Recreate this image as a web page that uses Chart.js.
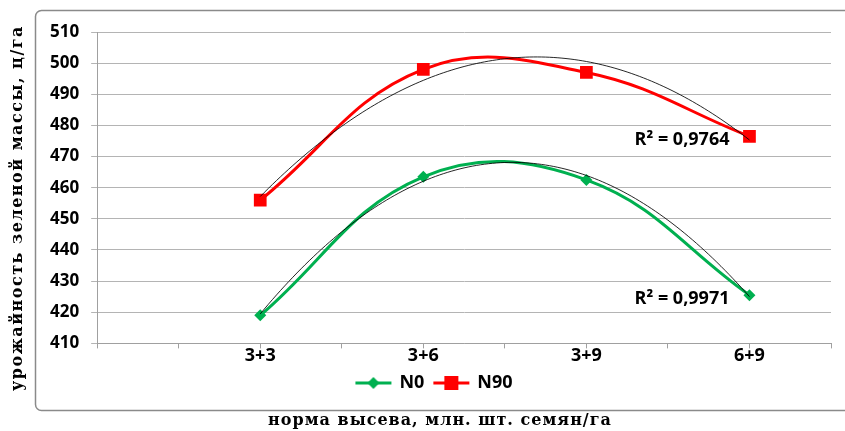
<!DOCTYPE html>
<html>
<head>
<meta charset="utf-8">
<script src="https://cdn.jsdelivr.net/npm/chart.js@4.4.1/dist/chart.umd.min.js"></script>
<style>
  html, body { margin: 0; padding: 0; background: #fff; }
  #wrap { width: 845px; height: 431px; }
</style>
</head>
<body>
<div id="wrap"><canvas id="chart"></canvas></div>
<script>
// Данные графика
const categories = ['3+3', '3+6', '3+9', '6+9'];
const seriesNames = ['N0', 'N90'];
const valuesN0 = [419, 463.5, 462.5, 425.5];
const valuesN90 = [456, 498, 497, 476.5];
const r2Labels = ['R² = 0,9971', 'R² = 0,9764'];
const yMin = 410, yMax = 510, yStep = 10;
const yTitle = 'урожайность зеленой массы, ц/га';
const xTitle = 'норма высева, млн. шт. семян/га';

const GREEN = '#00b050';
const RED = '#ff0000';
const LABEL_FONT = '"Open Sans", "Liberation Sans", sans-serif';
const TITLE_FONT = '"DejaVu Serif", "Liberation Serif", serif';

// Точки: категории на позициях 1..4 линейной оси
const toPoints = vals => vals.map((v, i) => ({ x: i + 1, y: v }));

// Квадратичная аппроксимация (МНК), как полиномиальный тренд 2-й степени в Excel
function quadFit(xs, ys) {
    let s = [0, 0, 0, 0, 0], t = [0, 0, 0];
    xs.forEach((x, i) => {
        for (let k = 0; k <= 4; k++) s[k] += Math.pow(x, k);
        for (let k = 0; k <= 2; k++) t[k] += ys[i] * Math.pow(x, k);
    });
    const A = [[s[0], s[1], s[2]], [s[1], s[2], s[3]], [s[2], s[3], s[4]]];
    const det = m => m[0][0] * (m[1][1] * m[2][2] - m[1][2] * m[2][1])
        - m[0][1] * (m[1][0] * m[2][2] - m[1][2] * m[2][0])
        + m[0][2] * (m[1][0] * m[2][1] - m[1][1] * m[2][0]);
    const D = det(A);
    const coef = [0, 1, 2].map(c => det(A.map((row, r) => row.map((v, j) => j === c ? t[r] : v))) / D);
    return x => coef[0] + coef[1] * x + coef[2] * x * x;
}

// Значок легенды: линия с маркером
function legendIcon(color, shape) {
    const cv = document.createElement('canvas');
    cv.width = 40; cv.height = 16;
    const c = cv.getContext('2d');
    c.strokeStyle = color; c.lineWidth = 3;
    c.beginPath(); c.moveTo(2, 8); c.lineTo(38, 8); c.stroke();
    c.fillStyle = color;
    if (shape === 'rect') {
        c.fillRect(20 - 7, 8 - 7, 14, 14);
    } else {
        c.beginPath(); c.moveTo(20, 2); c.lineTo(26, 8); c.lineTo(20, 14); c.lineTo(14, 8); c.closePath(); c.fill();
    }
    return cv;
}

// Рамка области диаграммы и подписи осей (с разрядкой букв)
const framePlugin = {
    id: 'frame',
    beforeDraw(chart) {
        const ctx = chart.ctx;
        ctx.save();
        ctx.strokeStyle = '#8a8a8a';
        ctx.lineWidth = 1.5;
        ctx.beginPath();
        ctx.roundRect(35.5, 10.5, 820, 400, 6);
        ctx.stroke();
        ctx.restore();
    },
    afterDraw(chart) {
        const ctx = chart.ctx;
        ctx.save();
        ctx.fillStyle = '#000';
        ctx.font = 'bold 16px ' + TITLE_FONT;
        ctx.textAlign = 'center';
        ctx.textBaseline = 'middle';
        ctx.letterSpacing = '1.5px';
        ctx.translate(18, 208);
        ctx.rotate(-Math.PI / 2);
        ctx.fillText(yTitle, 0, 0);
        ctx.restore();

        ctx.save();
        ctx.fillStyle = '#000';
        ctx.font = 'bold 16px ' + TITLE_FONT;
        ctx.textAlign = 'center';
        ctx.textBaseline = 'middle';
        ctx.letterSpacing = '1px';
        ctx.fillText(xTitle, 440, 421);
        ctx.restore();
    }
};

// Линии тренда и подписи R²
const trendPlugin = {
    id: 'trend',
    afterDatasetsDraw(chart) {
        const ctx = chart.ctx;
        const xs = chart.scales.x, ys = chart.scales.y;
        chart.data.datasets.forEach((ds, di) => {
            const px = ds.data.map(p => p.x), py = ds.data.map(p => p.y);
            const f = quadFit(px, py);
            const x0 = px[0], x1 = px[px.length - 1];
            ctx.save();
            ctx.strokeStyle = 'rgba(0,0,0,0.85)';
            ctx.lineWidth = 1;
            ctx.beginPath();
            for (let k = 0; k <= 120; k++) {
                const xv = x0 + (x1 - x0) * k / 120;
                const X = xs.getPixelForValue(xv), Y = ys.getPixelForValue(f(xv));
                k ? ctx.lineTo(X, Y) : ctx.moveTo(X, Y);
            }
            ctx.stroke();
            // подпись R² слева от последней точки
            const last = chart.getDatasetMeta(di).data[px.length - 1];
            ctx.fillStyle = '#000';
            ctx.font = 'bold 18px ' + LABEL_FONT;
            ctx.textAlign = 'right';
            ctx.textBaseline = 'middle';
            ctx.fillText(r2Labels[di], last.x - 20, last.y + 4);
            ctx.restore();
        });
    }
};

const ctx = document.getElementById('chart').getContext('2d');
new Chart(ctx, {
    type: 'line',
    data: {
        datasets: [{
            label: seriesNames[0],
            data: toPoints(valuesN0),
            borderColor: GREEN,
            backgroundColor: GREEN,
            borderWidth: 3,
            tension: 0.4,
            pointStyle: 'rectRot',
            pointRadius: 6,
            pointBorderWidth: 0
        }, {
            label: seriesNames[1],
            data: toPoints(valuesN90),
            borderColor: RED,
            backgroundColor: RED,
            borderWidth: 3,
            tension: 0.4,
            pointStyle: 'rect',
            pointRadius: 9,
            pointBorderWidth: 0
        }]
    },
    options: {
        responsive: true,
        maintainAspectRatio: false,
        animation: false,
        layout: { padding: { left: 38, right: 14, top: 32, bottom: 29 } },
        scales: {
            x: {
                type: 'linear',
                min: 0,
                max: 4.5,
                grid: { drawOnChartArea: false, color: '#a0a0a0', tickLength: 5 },
                border: { color: '#a0a0a0' },
                ticks: {
                    stepSize: 0.5,
                    autoSkip: false,
                    maxRotation: 0,
                    padding: -3,
                    color: '#000',
                    font: { family: LABEL_FONT, size: 18, weight: 'bold' },
                    callback: v => Number.isInteger(v) && categories[v - 1] ? categories[v - 1] : ''
                }
            },
            y: {
                min: yMin,
                max: yMax,
                grid: { color: '#b4b4b4', tickLength: 6 },
                border: { color: '#a0a0a0' },
                ticks: {
                    stepSize: yStep,
                    padding: 12,
                    color: '#000',
                    font: { family: LABEL_FONT, size: 17, weight: 'bold' }
                }
            }
        },
        plugins: {
            tooltip: { enabled: false },
            legend: {
                position: 'bottom',
                labels: {
                    usePointStyle: true,
                    pointStyleWidth: 34,
                    boxHeight: 14,
                    padding: 10,
                    color: '#000',
                    font: { family: LABEL_FONT, size: 18, weight: 'bold' },
                    generateLabels: chart => chart.data.datasets.map((ds, i) => ({
                        text: ds.label,
                        pointStyle: legendIcon(ds.borderColor, ds.pointStyle),
                        fillStyle: ds.borderColor,
                        strokeStyle: ds.borderColor,
                        lineWidth: 0,
                        datasetIndex: i
                    }))
                }
            }
        }
    },
    plugins: [framePlugin, trendPlugin]
});
</script>
</body>
</html>
